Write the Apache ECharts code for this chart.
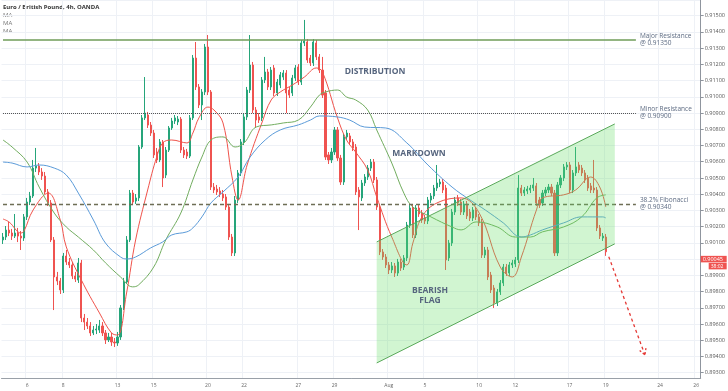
<!DOCTYPE html>
<html><head><meta charset="utf-8">
<script src="https://cdn.jsdelivr.net/npm/echarts@6/dist/echarts.min.js"></script>
<style>html,body{margin:0;padding:0;background:#fff}#c{width:728px;height:391px}</style>
</head><body><div id="c"></div>
<script>
// ---- time slots (4h bars) ----
const tradingDays = ['Jul 2','Jul 3','Jul 6','Jul 7','Jul 8','Jul 9','Jul 10','Jul 13','Jul 14','Jul 15','Jul 16','Jul 17',
  'Jul 20','Jul 21','Jul 22','Jul 23','Jul 24','Jul 27','Jul 28','Jul 29','Jul 30','Jul 31','Aug 3','Aug 4','Aug 5','Aug 6','Aug 7',
  'Aug 10','Aug 11','Aug 12','Aug 13','Aug 14','Aug 17','Aug 18','Aug 19','Aug 20','Aug 21','Aug 24','Aug 25','Aug 26'];
const barHours = ['00','04','08','12','16','20'];
const tickDays = ['Jul 6','Jul 8','Jul 13','Jul 15','Jul 20','Jul 22','Jul 27','Jul 29','Aug 3','Aug 5','Aug 10','Aug 12','Aug 17','Aug 19','Aug 24','Aug 26'];
const tickLabels = ['6','8','13','15','20','22','27','29','Aug','5','10','12','17','19','24','26'];

// ---- candles [open, close, low, high] ----
const candles = [
[0.90118,0.90136,0.90093,0.90161],[0.90136,0.90179,0.90118,0.90204],[0.90179,0.90161,0.90142,0.90229],[0.90161,0.90142,0.90118,0.90186],
[0.90142,0.90161,0.90130,0.90278],[0.90161,0.90142,0.90105,0.90192],[0.90142,0.90130,0.90056,0.90173],[0.90130,0.90260,0.90112,0.90278],
[0.90260,0.90352,0.90241,0.90377],[0.90352,0.90389,0.90333,0.90414],[0.90389,0.90561,0.90377,0.90611],[0.90561,0.90574,0.90537,0.90685],
[0.90574,0.90537,0.90518,0.90592],[0.90537,0.90512,0.90488,0.90561],[0.90512,0.90414,0.90401,0.90537],[0.90414,0.90346,0.90327,0.90432],
[0.90346,0.90118,0.90105,0.90364],[0.90118,0.89890,0.89686,0.90136],[0.89890,0.89865,0.89840,0.89921],[0.89865,0.89810,0.89785,0.89884],
[0.89810,0.90019,0.89791,0.90038],[0.90019,0.89982,0.89964,0.90056],[0.89982,0.89964,0.89945,0.90007],[0.89964,0.89896,0.89877,0.89982],
[0.89896,0.89877,0.89859,0.89921],[0.89871,0.89976,0.89853,0.90007],[0.89976,0.89637,0.89612,0.89995],[0.89637,0.89612,0.89563,0.89662],
[0.89612,0.89588,0.89569,0.89637],[0.89588,0.89545,0.89526,0.89612],[0.89545,0.89563,0.89532,0.89588],[0.89563,0.89569,0.89538,0.89600],
[0.89563,0.89588,0.89545,0.89625],[0.89588,0.89545,0.89526,0.89612],[0.89545,0.89502,0.89477,0.89563],[0.89502,0.89520,0.89489,0.89545],
[0.89520,0.89489,0.89465,0.89545],[0.89489,0.89483,0.89458,0.89514],[0.89483,0.89520,0.89465,0.89551],[0.89520,0.89699,0.89502,0.89717],
[0.89699,0.89859,0.89686,0.89884],[0.89859,0.90118,0.89847,0.90142],[0.90118,0.90407,0.90105,0.90426],[0.90407,0.90352,0.90333,0.90426],
[0.90358,0.90377,0.90340,0.90401],[0.90377,0.90691,0.90358,0.90703],[0.90691,0.90870,0.90679,0.90888],[0.90870,0.90900,0.90857,0.91122],
[0.90888,0.90826,0.90808,0.90907],[0.90826,0.90777,0.90759,0.90845],[0.90777,0.90642,0.90623,0.90796],[0.90660,0.90611,0.90592,0.90685],
[0.90611,0.90722,0.90598,0.90740],[0.90722,0.90500,0.90444,0.90734],[0.90518,0.90672,0.90500,0.90691],[0.90672,0.90808,0.90660,0.90820],
[0.90808,0.90851,0.90796,0.90870],[0.90851,0.90870,0.90833,0.90888],[0.90845,0.90863,0.90826,0.90882],[0.90863,0.90672,0.90654,0.90876],
[0.90672,0.90642,0.90623,0.90691],[0.90660,0.90635,0.90617,0.90679],[0.90635,0.90870,0.90623,0.90888],[0.90870,0.91239,0.90857,0.91258],
[0.91239,0.91061,0.91042,0.91338],[0.91061,0.90950,0.90931,0.91079],[0.90950,0.91030,0.90857,0.91048],[0.91030,0.91307,0.91011,0.91326],
[0.91307,0.91030,0.91011,0.91381],[0.91030,0.90444,0.90426,0.91042],[0.90444,0.90426,0.90407,0.90469],[0.90432,0.90414,0.90395,0.90457],
[0.90420,0.90401,0.90383,0.90444],[0.90401,0.90377,0.90358,0.90426],[0.90383,0.90321,0.90303,0.90401],[0.90321,0.90136,0.90118,0.90340],
[0.90136,0.90038,0.90019,0.90155],[0.90038,0.90364,0.90019,0.90389],[0.90364,0.90531,0.90346,0.90549],[0.90531,0.90722,0.90512,0.90740],
[0.90722,0.90876,0.90703,0.90900],[0.90876,0.91042,0.90857,0.91061],[0.91042,0.91196,0.91024,0.91381],[0.91196,0.90919,0.90900,0.91215],
[0.90919,0.90857,0.90808,0.90937],[0.90876,0.90857,0.90839,0.90900],[0.90870,0.91104,0.90851,0.91122],[0.91104,0.91153,0.91085,0.91246],
[0.91153,0.91061,0.91042,0.91172],[0.91061,0.91165,0.91042,0.91184],[0.91178,0.91024,0.91005,0.91196],[0.91024,0.91091,0.91005,0.91110],
[0.91073,0.91135,0.91054,0.91153],[0.91122,0.91147,0.91104,0.91165],[0.91147,0.91024,0.90900,0.91165],[0.91042,0.91011,0.90993,0.91061],
[0.91024,0.91116,0.91005,0.91135],[0.91116,0.91178,0.91098,0.91196],[0.91184,0.91091,0.91073,0.91202],[0.91091,0.91332,0.91073,0.91350],
[0.91332,0.91344,0.91313,0.91474],[0.91338,0.91227,0.91209,0.91356],[0.91239,0.91209,0.91190,0.91258],[0.91209,0.91338,0.91190,0.91356],
[0.91332,0.91246,0.91227,0.91350],[0.91246,0.91165,0.91147,0.91264],[0.91165,0.91011,0.90993,0.91246],[0.91024,0.90629,0.90611,0.91042],
[0.90642,0.90611,0.90586,0.90660],[0.90611,0.90660,0.90592,0.90685],[0.90660,0.90796,0.90642,0.90814],[0.90796,0.90623,0.90605,0.90814],
[0.90623,0.90475,0.90457,0.90642],[0.90475,0.90753,0.90457,0.90771],[0.90753,0.90777,0.90734,0.90796],[0.90759,0.90722,0.90703,0.90777],
[0.90722,0.90685,0.90666,0.90740],[0.90691,0.90414,0.90395,0.90709],[0.90426,0.90383,0.90179,0.90444],[0.90377,0.90469,0.90358,0.90488],
[0.90469,0.90506,0.90451,0.90524],[0.90506,0.90561,0.90488,0.90580],[0.90561,0.90598,0.90543,0.90617],[0.90598,0.90488,0.90469,0.90617],
[0.90488,0.90321,0.90303,0.90506],[0.90321,0.90044,0.90025,0.90340],[0.90044,0.90013,0.89995,0.90062],[0.90013,0.89964,0.89945,0.90031],
[0.89964,0.89933,0.89908,0.89982],[0.89933,0.89958,0.89914,0.89982],[0.89958,0.89914,0.89890,0.89976],[0.89914,0.89982,0.89896,0.90001],
[0.89982,0.89945,0.89927,0.90001],[0.89951,0.90007,0.89933,0.90025],[0.90007,0.90210,0.89988,0.90229],[0.90210,0.90315,0.90192,0.90333],
[0.90315,0.90149,0.90130,0.90333],[0.90149,0.90315,0.90130,0.90333],[0.90315,0.90278,0.90260,0.90333],[0.90284,0.90241,0.90223,0.90303],
[0.90253,0.90235,0.90216,0.90272],[0.90235,0.90364,0.90216,0.90383],[0.90364,0.90389,0.90346,0.90407],[0.90389,0.90438,0.90370,0.90457],
[0.90438,0.90469,0.90420,0.90580],[0.90463,0.90475,0.90444,0.90494],[0.90475,0.90426,0.90407,0.90494],[0.90438,0.89995,0.89933,0.90457],
[0.90007,0.90099,0.89988,0.90118],[0.90099,0.90290,0.90081,0.90309],[0.90290,0.90364,0.90272,0.90383],[0.90377,0.90346,0.90327,0.90395],
[0.90352,0.90290,0.90272,0.90370],[0.90290,0.90340,0.90272,0.90358],[0.90340,0.90266,0.90247,0.90358],[0.90290,0.90253,0.90235,0.90309],
[0.90253,0.90303,0.90235,0.90321],[0.90303,0.90260,0.90241,0.90321],[0.90260,0.90223,0.90204,0.90278],[0.90229,0.90025,0.90007,0.90247],
[0.90025,0.90056,0.90007,0.90075],[0.90056,0.89890,0.89871,0.90075],[0.89902,0.89810,0.89791,0.89921],[0.89822,0.89730,0.89699,0.89840],
[0.89730,0.89798,0.89711,0.89816],[0.89798,0.89853,0.89779,0.89871],[0.89853,0.89951,0.89834,0.89970],[0.89951,0.89914,0.89896,0.89970],
[0.89914,0.89964,0.89896,0.89982],[0.89964,0.89976,0.89945,0.89995],[0.89970,0.89995,0.89951,0.90013],[0.89995,0.90438,0.89976,0.90518],
[0.90438,0.90407,0.90389,0.90457],[0.90407,0.90426,0.90389,0.90444],[0.90420,0.90432,0.90401,0.90451],[0.90426,0.90438,0.90407,0.90457],
[0.90438,0.90457,0.90420,0.90500],[0.90451,0.90346,0.90327,0.90469],[0.90364,0.90333,0.90315,0.90383],[0.90346,0.90407,0.90327,0.90426],
[0.90407,0.90426,0.90389,0.90444],[0.90426,0.90444,0.90407,0.90463],[0.90444,0.90407,0.90389,0.90463],[0.90407,0.90038,0.90019,0.90426],
[0.90038,0.90457,0.90019,0.90475],[0.90457,0.90500,0.90438,0.90518],[0.90500,0.90568,0.90481,0.90586],[0.90568,0.90580,0.90549,0.90598],
[0.90580,0.90426,0.90407,0.90598],[0.90426,0.90531,0.90407,0.90549],[0.90531,0.90568,0.90512,0.90691],[0.90580,0.90549,0.90531,0.90598],
[0.90561,0.90531,0.90512,0.90580],[0.90531,0.90488,0.90469,0.90549],[0.90500,0.90438,0.90420,0.90518],[0.90451,0.90426,0.90407,0.90469],
[0.90438,0.90426,0.90407,0.90611],[0.90426,0.90192,0.90173,0.90444],[0.90192,0.90142,0.90124,0.90210],[0.90130,0.90142,0.90112,0.90161],
[0.90136,0.90045,0.90020,0.90155]
];

// ---- moving averages: [slot, price] ----
const maFast = [[0,0.90247],[2,0.90229],[6,0.90161],[7,0.90174],[10,0.90303],[15,0.90407],[19,0.90241],[21,0.90075],[26,0.89871],[32,0.89668],
[36,0.89545],[38,0.89532],[41,0.89791],[44,0.90118],[48,0.90426],[51,0.90629],[53,0.90716],[56,0.90734],[61,0.90716],[63,0.90777],[65,0.90870],
[68,0.90937],[70,0.90919],[73,0.90839],[76,0.90506],[78,0.90364],[81,0.90580],[86,0.90845],[89,0.90981],[92,0.91030],[96,0.91073],[100,0.91122],
[104,0.91178],[106,0.91153],[111,0.90870],[114,0.90734],[117,0.90660],[121,0.90549],[124,0.90383],[129,0.90136],[134,0.89964],[136,0.90099],
[139,0.90260],[144,0.90346],[152,0.90377],[158,0.90284],[165,0.89951],[169,0.89890],[172,0.90013],[177,0.90303],[179,0.90377],[186,0.90396],
[190,0.90426],[195,0.90506],[198,0.90444],[200,0.90321]];
const maMid = [[0,0.90734],[3,0.90691],[8,0.90598],[12,0.90444],[17,0.90284],[21,0.90198],[25,0.90136],[30,0.90056],[34,0.89977],[39,0.89890],
[43,0.89829],[45,0.89841],[50,0.89951],[54,0.90118],[59,0.90284],[63,0.90488],[66,0.90629],[69,0.90734],[73,0.90753],[77,0.90691],[80,0.90716],
[84,0.90814],[89,0.90827],[93,0.90839],[98,0.90857],[102,0.90937],[105,0.91011],[107,0.91030],[111,0.91042],[114,0.90999],[117,0.90981],
[121,0.90919],[124,0.90796],[129,0.90592],[133,0.90407],[136,0.90321],[142,0.90260],[149,0.90198],[152,0.90180],[157,0.90229],[164,0.90198],
[170,0.90136],[175,0.90136],[179,0.90168],[186,0.90198],[192,0.90260],[197,0.90377],[200,0.90396]];
const maSlow = [[0,0.90598],[3,0.90592],[8,0.90568],[12,0.90580],[17,0.90561],[21,0.90518],[25,0.90407],[30,0.90241],[34,0.90099],[39,0.90013],
[41,0.90001],[44,0.90013],[49,0.90069],[53,0.90106],[56,0.90149],[61,0.90168],[63,0.90192],[66,0.90260],[69,0.90346],[73,0.90414],[78,0.90506],
[82,0.90629],[87,0.90734],[92,0.90796],[98,0.90827],[102,0.90857],[105,0.90882],[111,0.90876],[115,0.90857],[120,0.90814],[127,0.90808],
[134,0.90716],[141,0.90580],[149,0.90444],[155,0.90364],[160,0.90303],[166,0.90223],[172,0.90136],[175,0.90149],[179,0.90180],[186,0.90223],
[192,0.90260],[199,0.90260],[200,0.90254]];

// ---- drawings ----
const majorResistance = 0.91350, minorResistance = 0.90900, fib382 = 0.90340;
const levelEndSlot = 210;
const channelX = [123.6, 202.5];
const channelUpper = [0.90106, 0.90833];
const channelLower = [0.89360, 0.90094];
const arrowX = [201.2, 212.6];
const arrowY = [0.90015, 0.89409];
const lastPrice = 0.90045, countdown = '38:02';
const yMin = 0.892673, yMax = 0.915968;

const FONT = '"Open Sans", "Noto Sans", sans-serif';
const allSlots = [];
tradingDays.forEach(d => barHours.forEach(h => allSlots.push(d + ' ' + h)));
const categories = allSlots.slice(4, 4 + 232);
const labelOf = {};
tickDays.forEach((d, k) => { labelOf[d + ' 00'] = tickLabels[k]; });
const isTick = (i, v) => labelOf[v] !== undefined;

const UP = '#26a57a', DOWN = '#ef5350';
const lvlLabel = (txt) => ({show: true, position: 'end', distance: 4, formatter: txt, color: '#5d6b82',
  fontSize: 6.5, lineHeight: 7, fontFamily: FONT});

const chart = echarts.init(document.getElementById('c'));
chart.setOption({
  animation: false,
  backgroundColor: '#fff',
  grid: {left: 1.5, right: 26, top: 0, bottom: 13},
  xAxis: {
    type: 'category', data: categories, boundaryGap: true,
    axisLine: {lineStyle: {color: '#9aa0a8'}},
    axisTick: {show: false, alignWithLabel: true},
    axisLabel: {interval: isTick, formatter: v => labelOf[v], fontSize: 5, color: '#666', margin: 5, fontFamily: FONT},
    splitLine: {show: true, interval: isTick, lineStyle: {color: '#eef1f6'}}
  },
  yAxis: {
    type: 'value', position: 'right', min: yMin, max: yMax, splitNumber: 23,
    axisLine: {show: true, lineStyle: {color: '#8f959e'}},
    axisTick: {show: true, length: 3, lineStyle: {color: '#8f959e'}},
    axisLabel: {fontSize: 5.5, color: '#555', margin: 4, fontFamily: FONT, showMinLabel: false, showMaxLabel: false,
      formatter: v => (Math.abs(v * 1000 - Math.round(v * 1000)) < 1e-6 ? v.toFixed(5) : '')},
    splitLine: {lineStyle: {color: '#eef1f6'}}
  },
  graphic: [
    {type: 'text', x: 3, y: 7, style: {text: 'Euro / British Pound, 4h, OANDA', fill: '#333', fontSize: 6, fontWeight: 'bold', fontFamily: FONT, verticalAlign: 'middle'}},
    {type: 'text', x: 3, y: 15, style: {text: 'MA', fill: '#777', fontSize: 6, fontFamily: FONT, verticalAlign: 'middle'}},
    {type: 'text', x: 3, y: 23, style: {text: 'MA', fill: '#777', fontSize: 6, fontFamily: FONT, verticalAlign: 'middle'}},
    {type: 'text', x: 3, y: 31, style: {text: 'MA', fill: '#777', fontSize: 6, fontFamily: FONT, verticalAlign: 'middle'}},
    {type: 'text', x: 375, y: 72, z: 10, style: {text: 'DISTRIBUTION', fill: '#56657e', fontSize: 8.5, fontWeight: 'bold', fontFamily: FONT, align: 'center', verticalAlign: 'middle'}},
    {type: 'text', x: 419, y: 154, z: 10, style: {text: 'MARKDOWN', fill: '#56657e', fontSize: 8.5, fontWeight: 'bold', fontFamily: FONT, align: 'center', verticalAlign: 'middle'}},
    {type: 'text', x: 430, y: 296, z: 10, style: {text: 'BEARISH\nFLAG', fill: '#56657e', fontSize: 8.5, lineHeight: 10, fontWeight: 'bold', fontFamily: FONT, align: 'center', verticalAlign: 'middle'}}
  ],
  series: [
    {
      type: 'candlestick', data: candles, barWidth: 1.6, clip: false, z: 2,
      itemStyle: {color: UP, color0: DOWN, borderColor: UP, borderColor0: DOWN, borderWidth: 1},
      markLine: {
        symbol: 'none', silent: true, animation: false,
        data: [
          [{coord: [0, majorResistance], lineStyle: {color: '#6f9d58', width: 1.5, type: 'solid'}, label: lvlLabel('Major Resistance\n@ 0.91350')},
           {coord: [levelEndSlot, majorResistance]}],
          [{coord: [0, minorResistance], lineStyle: {color: '#555', width: 1, type: 'dotted'}, label: lvlLabel('Minor Resistance\n@ 0.90900')},
           {coord: [levelEndSlot, minorResistance]}],
          [{coord: [0, fib382], lineStyle: {color: '#6e6e55', width: 1.3, type: [4, 3]}, label: lvlLabel('38.2% Fibonacci\n@ 0.90340')},
           {coord: [levelEndSlot, fib382]}]
        ]
      }
    },
    {type: 'line', data: maFast, smooth: 0.4, showSymbol: false, z: 3, lineStyle: {color: '#f0534b', width: 1}},
    {type: 'line', data: maMid, smooth: 0.4, showSymbol: false, z: 3, lineStyle: {color: '#72ad5f', width: 1}},
    {
      type: 'line', data: maSlow, smooth: 0.4, showSymbol: false, z: 3, clip: false, lineStyle: {color: '#5b9bd9', width: 1},
      markLine: {
        symbol: 'none', silent: true, animation: false,
        data: [{yAxis: lastPrice, lineStyle: {color: 'rgba(255,255,255,0)', width: 0}, label: {
          show: true, position: 'end', distance: 0, opacity: 1,
          formatter: '{e|}\n{p|' + lastPrice.toFixed(5) + '}\n{s|}{t|' + countdown + '}',
          rich: {
            e: {height: 7, lineHeight: 7},
            p: {backgroundColor: DOWN, color: '#fff', fontSize: 5.5, fontFamily: FONT, height: 6.5, lineHeight: 7, width: 22, padding: [0, 2]},
            s: {width: 8, height: 6.5},
            t: {backgroundColor: DOWN, color: '#fff', fontSize: 5, fontFamily: FONT, height: 6.5, lineHeight: 7, width: 14, padding: [0, 2]}
          }
        }}]
      }
    },
    {
      type: 'custom', z: 5, silent: true, data: [[channelX[0], channelLower[0]]],
      renderItem: (params, api) => {
        const ul = api.coord([channelX[0], channelUpper[0]]);
        const ur = api.coord([channelX[1], channelUpper[1]]);
        const lr = api.coord([channelX[1], channelLower[1]]);
        const ll = api.coord([channelX[0], channelLower[0]]);
        return {type: 'group', children: [
          {type: 'polygon', shape: {points: [ul, ur, lr, ll]}, style: {fill: 'rgba(102,221,102,0.3)'}},
          {type: 'line', shape: {x1: ul[0], y1: ul[1], x2: ur[0], y2: ur[1]}, style: {stroke: '#5aa95a', lineWidth: 1}},
          {type: 'line', shape: {x1: ll[0], y1: ll[1], x2: lr[0], y2: lr[1]}, style: {stroke: '#5aa95a', lineWidth: 1}}
        ]};
      }
    },
    {
      type: 'custom', z: 6, silent: true, data: [[arrowX[0], arrowY[0]]],
      renderItem: (params, api) => {
        const a = api.coord([arrowX[0], arrowY[0]]);
        const b = api.coord([arrowX[1], arrowY[1]]);
        const ang = Math.atan2(b[1] - a[1], b[0] - a[0]);
        const L = 7, sp = 0.5;
        const h1 = [b[0] - L * Math.cos(ang - sp), b[1] - L * Math.sin(ang - sp)];
        const h2 = [b[0] - L * Math.cos(ang + sp), b[1] - L * Math.sin(ang + sp)];
        const st = {stroke: '#e53935', lineWidth: 1.3, lineDash: [3, 3], fill: null};
        return {type: 'group', children: [
          {type: 'line', shape: {x1: a[0], y1: a[1], x2: b[0], y2: b[1]}, style: st},
          {type: 'polyline', shape: {points: [h1, b, h2]}, style: {stroke: '#e53935', lineWidth: 1.3, lineDash: [2, 2], fill: null}}
        ]};
      }
    }
  ]
});
</script></body></html>
